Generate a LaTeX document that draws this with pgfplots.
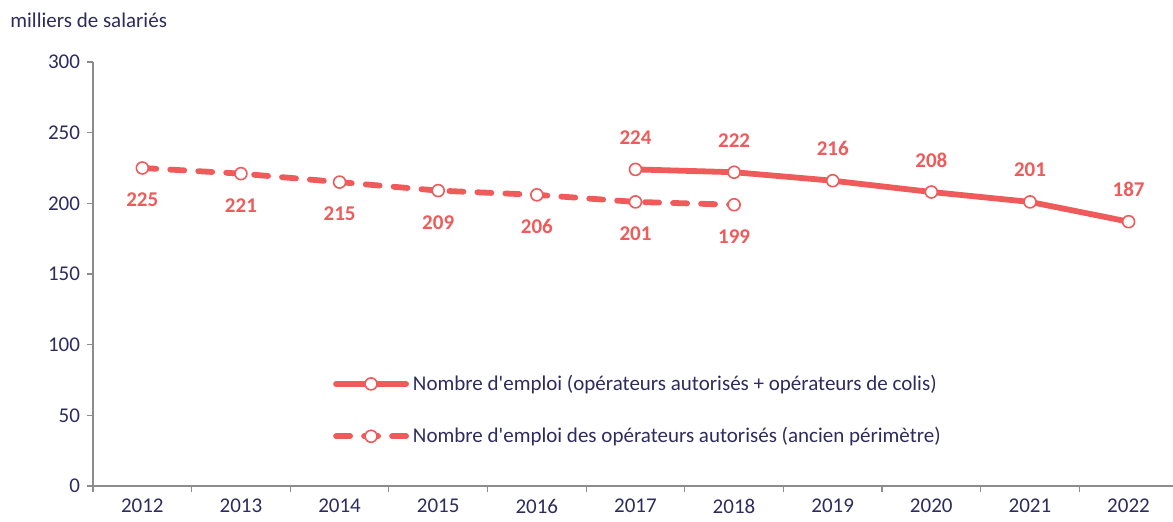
\documentclass[border=0pt]{standalone}
\usepackage{fontspec}
\setmainfont{Carlito}
\usepackage{pgfplots}
\pgfplotsset{compat=1.18}
\definecolor{serie}{HTML}{EF5A5A}
\definecolor{txt}{HTML}{2E2B5F}
\definecolor{axisgray}{HTML}{8C8C8C}
\newcommand{\fs}{\fontsize{10.5}{12.6}\selectfont}
\begin{document}
\begin{tikzpicture}
\useasboundingbox (0,0) rectangle (586.5pt,261pt);
\node[anchor=west, font=\fs, text=txt, inner sep=0] at (5pt,251pt) {milliers de salariés};
\begin{axis}[
  at={(46.5pt,18pt)}, anchor=south west,
  scale only axis, width=540pt, height=212pt,
  xmin=2011.5, xmax=2022.45, ymin=0, ymax=300,
  axis x line*=bottom, axis y line*=left,
  axis line style={axisgray, line width=0.6pt, -},
  ytick={0,50,...,300},
  xtick={2012,...,2022},
  x tick label style={/pgf/number format/1000 sep={}},
  major x tick style={draw=none},
  minor xtick={2011.5,2012.5,...,2021.5},
  tick style={axisgray, line width=0.6pt},
  tick align=outside,
  major tick length=3pt, minor tick length=3pt,
  tick label style={font=\fs, text=txt},
  /pgf/number format/assume math mode=true,
  legend style={at={(0.222,0.179)}, anchor=west, draw=none, fill=none,
    font=\fs, text=txt, row sep=13pt, inner sep=0pt,
    /tikz/column sep=0pt},
  legend cell align=left,
  legend image code/.code={\draw[mark repeat=2,mark phase=2,#1] plot coordinates {(0pt,0pt)(17.5pt,0pt)(35pt,0pt)};},
  clip=false,
]
\addplot[serie, line width=2.9pt, line join=round, line cap=round,
  mark=*, mark size=3pt, mark options={fill=white, draw=serie, line width=0.8pt, solid},
  nodes near coords,
  every node near coord/.append style={font=\fs\bfseries, text=serie, anchor=center, yshift=16pt}]
  coordinates {(2017,224) (2018,222) (2019,216) (2020,208) (2021,201) (2022,187)};
\addlegendentry{Nombre d\textquotesingle emploi (opérateurs autorisés + opérateurs de colis)}
\addplot[serie, line width=2.9pt, line join=round, line cap=round, dash pattern=on 7pt off 7pt,
  mark=*, mark size=3pt, mark options={fill=white, draw=serie, line width=0.8pt, solid},
  nodes near coords,
  every node near coord/.append style={font=\fs\bfseries, text=serie, anchor=center, yshift=-16pt}]
  coordinates {(2012,225) (2013,221) (2014,215) (2015,209) (2016,206) (2017,201) (2018,199)};
\addlegendentry{Nombre d\textquotesingle emploi des opérateurs autorisés (ancien périmètre)}
\end{axis}
\end{tikzpicture}
\end{document}
